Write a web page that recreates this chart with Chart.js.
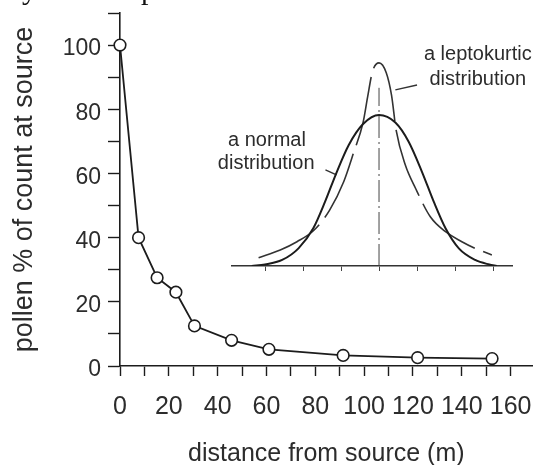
<!DOCTYPE html>
<html>
<head>
<meta charset="utf-8">
<script src="https://cdn.jsdelivr.net/npm/chart.js@4"></script>
<style>
  html, body { margin: 0; padding: 0; background: #fff; }
  #wrap { position: relative; width: 540px; height: 465px; overflow: hidden; }
  #main { position: absolute; left: 0; top: 0; }
  #inset { position: absolute; left: 200px; top: 0; }
  .above { position: absolute; top: -26px; font: 30px/30px "Liberation Serif", serif; color: #111; }
</style>
</head>
<body>
<div id="wrap">
  <canvas id="main" width="540" height="465"></canvas>
  <canvas id="inset" width="340" height="290"></canvas>
  <span class="above" style="left:22px">y</span>
  <span class="above" style="left:141px">p</span>
</div>
<script>
// main series: pollen count vs distance
var distance = [0, 7.6, 15.2, 22.9, 30.5, 45.7, 61, 91.4, 121.9, 152.4];
var pollen = [100, 40, 27.5, 23, 12.5, 8, 5.2, 3.3, 2.6, 2.3];
var xTicks = [0, 10, 20, 30, 40, 50, 60, 70, 80, 90, 100, 110, 120, 130, 140, 150, 160];
var yTicks = [0, 10, 20, 30, 40, 50, 60, 70, 80, 90, 100, 110];

// inset: the two curve shapes (x in tick units, height relative to normal peak)
var normalX = [-3.35, -3.0, -2.55, -2.12, -1.73, -1.42, -1.11, -0.8, -0.42, 0, 0.43, 0.78, 1.13, 1.44, 1.75, 2.1, 2.53, 2.9, 3.1];
var normalY = [0, 0.01, 0.04, 0.117, 0.25, 0.426, 0.624, 0.8, 0.94, 1.0, 0.95, 0.823, 0.624, 0.426, 0.25, 0.117, 0.04, 0.01, 0];
var leptoX = [-3.17, -2.6, -2.16, -1.72, -1.3, -0.93, -0.67, -0.42, -0.3, -0.17, 0, 0.19, 0.33, 0.45, 0.69, 0.96, 1.35, 1.75, 2.18, 2.53, 2.97];
var leptoY = [0.055, 0.106, 0.161, 0.235, 0.37, 0.558, 0.75, 0.95, 1.12, 1.29, 1.345, 1.28, 1.13, 0.9, 0.67, 0.515, 0.326, 0.227, 0.161, 0.117, 0.073];
var insetTicks = [-3, -2, -1, 0, 1, 2, 3];
var centreLine = [[0, 0], [0, 1.18]];
var normalPointer = [[-1.41, 0.636], [-1.12, 0.603]];
var leptoPointer = [[0.43, 1.166], [1.0, 1.199]];
var insetLabels = [
  {text: "a leptokurtic", x: 2.6, y: 1.40},
  {text: "distribution", x: 2.6, y: 1.232},
  {text: "a normal", x: -2.95, y: 0.834},
  {text: "distribution", x: -2.97, y: 0.68}
];

var ink = "#1c1c1c";
var textCol = "#2c2c2c";
var fam = "'Liberation Sans', Arial, sans-serif";

function pairs(xs, ys){
  var out = [];
  for(var i=0;i<xs.length;i++) out.push({x: xs[i], y: ys[i]});
  return out;
}
function pts(list){
  return list.map(function(p){ return {x: p[0], y: p[1]}; });
}

new Chart(document.getElementById("main"), {
  type: 'line',
  data: {
    datasets: [{
      data: pairs(distance, pollen),
      borderColor: ink,
      borderWidth: 1.8,
      pointRadius: 5.8,
      pointBorderWidth: 1.6,
      pointBackgroundColor: "#fff",
      pointBorderColor: ink,
      tension: 0,
      clip: false
    }]
  },
  options: {
    responsive: false,
    animation: false,
    events: [],
    layout: {padding: {top: 13, right: 0, bottom: 0, left: 0}},
    plugins: {legend: {display: false}, tooltip: {enabled: false}},
    scales: {
      x: {
        type: 'linear', min: 0, max: 169,
        afterBuildTicks: function(s){ s.ticks = xTicks.map(function(v){ return {value: v}; }); },
        afterFit: function(s){ s.height = 99; s.paddingLeft = 0; s.paddingRight = 0; },
        border: {color: ink, width: 1.6},
        grid: {drawOnChartArea: false, tickLength: 10, color: ink, tickWidth: 1.4},
        ticks: {
          padding: 16, color: textCol, maxRotation: 0, autoSkip: false,
          font: {family: fam, size: 25},
          callback: function(v){ return v % 20 === 0 ? v : ''; }
        },
        title: {
          display: true, text: 'distance from source (m)', color: textCol,
          font: {family: fam, size: 25, lineHeight: 0.88}, padding: 0
        }
      },
      y: {
        type: 'linear', min: 0, max: 110,
        afterBuildTicks: function(s){ s.ticks = yTicks.map(function(v){ return {value: v}; }); },
        afterFit: function(s){ s.width = 120; s.paddingTop = 0; s.paddingBottom = 0; },
        border: {color: ink, width: 1.6},
        grid: {drawOnChartArea: false, tickLength: 12, color: ink, tickWidth: 1.4},
        ticks: {
          padding: 7, labelOffset: 4, color: textCol, autoSkip: false,
          font: {family: fam, size: 23},
          callback: function(v){ return v % 20 === 0 && v <= 100 ? v : ''; }
        },
        title: {
          display: true, text: 'pollen % of count at source', color: textCol,
          font: {family: fam, size: 27, lineHeight: 1}, padding: {top: 11, bottom: 0}
        }
      }
    }
  }
});

// text labels for the inset, placed through its scales
var insetText = {
  id: 'insetText',
  afterDatasetsDraw: function(chart){
    var ctx = chart.ctx, sx = chart.scales.x, sy = chart.scales.y;
    ctx.save();
    ctx.fillStyle = textCol;
    ctx.font = "20px " + fam;
    ctx.textAlign = 'center';
    ctx.textBaseline = 'middle';
    insetLabels.forEach(function(l){
      ctx.fillText(l.text, sx.getPixelForValue(l.x), sy.getPixelForValue(l.y));
    });
    ctx.restore();
  }
};

new Chart(document.getElementById("inset"), {
  type: 'line',
  data: {
    datasets: [
      {data: pairs(normalX, normalY), borderColor: ink, borderWidth: 2, pointRadius: 0, cubicInterpolationMode: 'monotone'},
      {data: pairs(leptoX, leptoY), borderColor: "#333", borderWidth: 1.6, borderDash: [70, 9], pointRadius: 0, cubicInterpolationMode: 'monotone'},
      {data: pts(centreLine), borderColor: "#444", borderWidth: 1, borderDash: [22, 4, 2, 4], pointRadius: 0},
      {data: pts(normalPointer), borderColor: "#333", borderWidth: 1.4, pointRadius: 0},
      {data: pts(leptoPointer), borderColor: "#333", borderWidth: 1.4, pointRadius: 0}
    ]
  },
  options: {
    responsive: false,
    animation: false,
    events: [],
    layout: {padding: {top: 39.5, right: 28, bottom: 0, left: 32}},
    plugins: {legend: {display: false}, tooltip: {enabled: false}},
    scales: {
      x: {
        type: 'linear', min: -3.87, max: 3.5,
        afterBuildTicks: function(s){ s.ticks = insetTicks.map(function(v){ return {value: v}; }); },
        afterFit: function(s){ s.height = 24; s.paddingLeft = 0; s.paddingRight = 0; },
        border: {color: "#333", width: 1.6},
        grid: {drawOnChartArea: false, tickLength: 5, color: "#444", tickWidth: 1},
        ticks: {callback: function(){ return ''; }, padding: 0}
      },
      y: {type: 'linear', min: 0, max: 1.5, display: false}
    }
  },
  plugins: [insetText]
});
</script>
</body>
</html>
